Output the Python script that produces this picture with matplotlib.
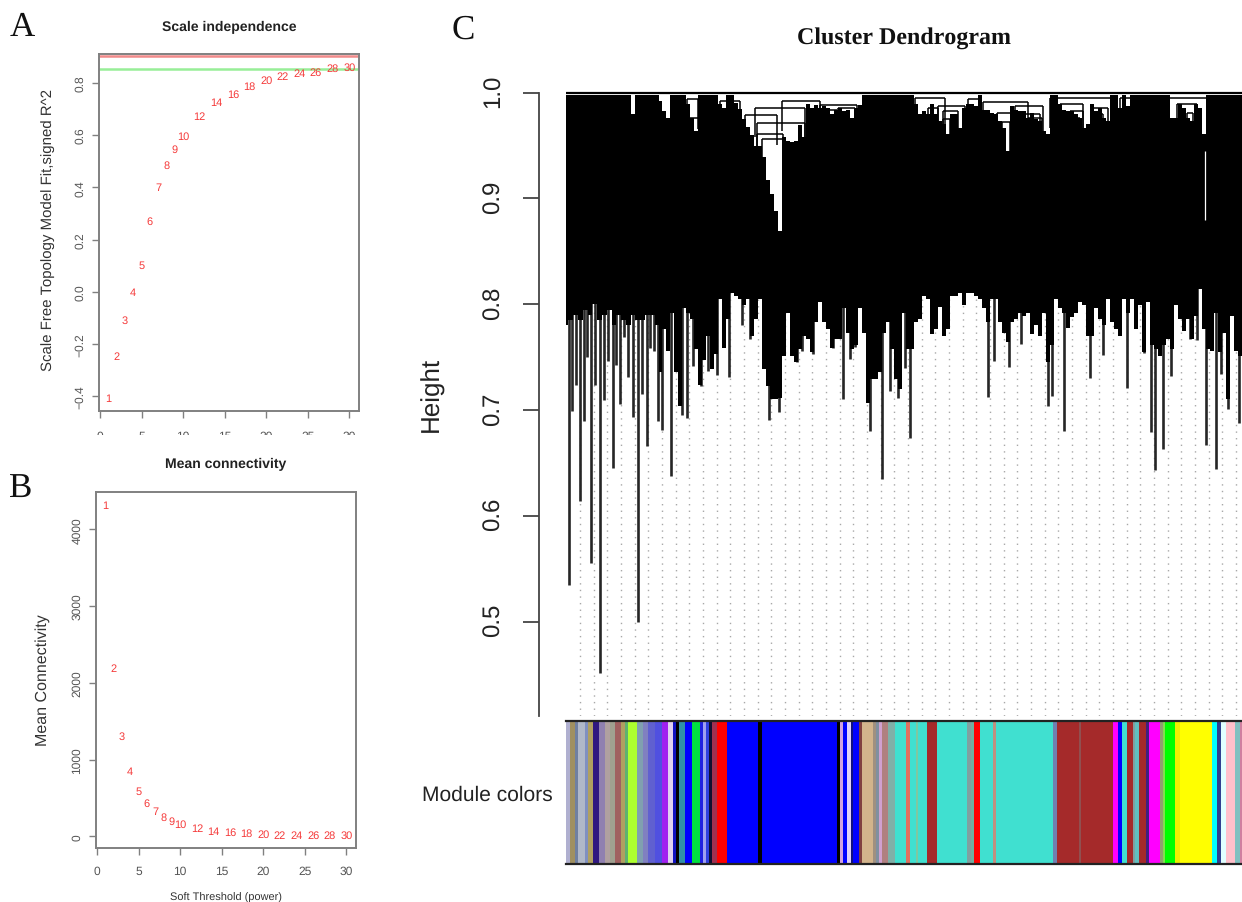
import numpy as np
import matplotlib
matplotlib.use("Agg")
import matplotlib.pyplot as plt
from matplotlib.patches import Rectangle
from matplotlib.transforms import ScaledTranslation

plt.rcParams["text.hinting"] = "no_hinting"
plt.rcParams["text.hinting_factor"] = 1

W, H = 1242, 903
SANS = "Liberation Sans"
SERIF = "Liberation Serif"

# ---------- Panels A and B ----------
powers = [1, 2, 3, 4, 5, 6, 7, 8, 9, 10, 12, 14, 16, 18, 20, 22, 24, 26, 28, 30]
sft_r2 = [-0.409, -0.248, -0.108, -0.002, 0.101, 0.271, 0.400, 0.487, 0.545, 0.598,
          0.674, 0.725, 0.759, 0.790, 0.813, 0.828, 0.839, 0.841, 0.857, 0.860]
mean_k = [4320, 2189, 1307, 855, 594, 434, 330, 251, 199, 160,
          108, 73, 56, 43, 30, 21, 17, 17, 13, 13]
r2_cut_red = 0.903
r2_cut_green = 0.853
x_ticks = [0, 5, 10, 15, 20, 25, 30]
a_yticks = [-0.4, -0.2, 0.0, 0.2, 0.4, 0.6, 0.8]
b_yticks = [0, 1000, 2000, 3000, 4000]

# ---------- Panel C: dendrogram ----------
leaf_low = [
    .780, .785, .790, .785, .795, .790, .800, .785, .790, .795,
    .780, .790, .785, .780, .790, .785, .785, .790, .790, .780,
    .736, .777, .756, .792, .736, .704, .796, .792, .786, .758,
    .724, .747, .770, .739, .753, .805, .759, .786, .811, .808,
    .805, .799, .805, .770, .786, .805, .739, .723, .710, .710,
    .711, .751, .792, .751, .745, .758, .770, .767, .755, .783,
    .802, .783, .777, .759, .767, .767, .796, .773, .758, .761,
    .796, .773, .707, .729, .729, .736, .773, .783, .758, .729,
    .720, .792, .758, .758, .783, .786, .808, .805, .772, .777,
    .797, .770, .777, .808, .808, .811,
    .799, .811, .811, .808, .805, .796, .783, .805, .805, .783,
    .773, .764, .783, .786, .792, .789, .792, .772, .780, .770,
    .792, .745, .761, .805, .796, .792, .778, .788, .792, .802,
    .799, .770, .770, .796, .786, .780, .805, .783, .777, .770,
    .805, .792, .805, .777, .799, .755, .802, .761, .758, .751,
    .761, .767, .758, .799, .786, .775, .786, .767, .789, .814,
    .777, .758, .756, .792, .755, .773, .710, .789, .756, .751, .751]
leaf_x = np.concatenate([np.linspace(566, 657, 20), np.arange(660, 964, 4),
                         np.arange(964, 1244, 4), [1243]])

notch_x = [632, 660, 664, 668, 688, 692, 696, 720, 724,
           736, 740, 744, 748, 752, 756, 760, 764, 768, 772, 776, 780, 784, 788, 792, 796,
           800, 804, 808, 812, 816, 820, 824, 828, 832, 836, 840, 844, 848, 852, 856, 860,
           916, 920, 924, 928, 932, 936, 940, 944, 948, 952, 956, 960, 964, 968, 972, 976,
           984, 988, 992, 996, 1000, 1004, 1008, 1012, 1016, 1020, 1024, 1028, 1032, 1036,
           1040, 1044, 1048, 1060, 1064, 1068, 1072, 1076, 1080, 1084, 1088, 1092, 1096,
           1100, 1104, 1108, 1120, 1128, 1172, 1176, 1180, 1184, 1188, 1192, 1196, 1200,
           1204]
notch_top = [.980, .992, .983, .976, .989, .976, .964, .989, .986,
             .990, .985, .975, .968, .960, .950, .950, .939, .917, .904, .888, .869, .958, .954,
             .953, .954, .969, .958, .989, .986, .988, .986, .987, .986, .980, .984, .986, .983,
             .984, .976, .986, .988,
             .989, .980, .983, .980, .989, .980, .973, .970, .961, .980, .980, .967, .986, .989,
             .989, .987, .984, .984, .981, .980, .973, .967, .945, .987, .984, .983, .983, .976,
             .981, .975, .973, .964, .961, .989, .984, .983, .983, .980, .976, .967, .970, .989,
             .983, .986, .976, .973, .986, .987, .976, .976, .989, .986, .976, .973, .989, .986,
             .961]

spike_x = [569, 580, 591, 600, 612.7, 638.3, 646.7, 662.3, 670.7, 681.7, 686.7, 693.3,
           700.7, 708, 716.7, 729, 741.7, 750, 769, 779, 796.7, 801.7, 813.3, 833.3, 842.7,
           850, 855, 870, 875, 882.3, 890, 898.3, 905, 910, 988.3, 994.3, 1009.3, 1020.7,
           1047.7, 1051.7, 1064.3, 1090, 1102.7, 1127.3, 1144, 1151, 1155.3, 1162.7, 1170.7,
           1190, 1196.7, 1206, 1215.7, 1220.7, 1228.3, 1239,
           572, 576, 584, 587, 595, 604, 608, 616, 620, 624, 628, 633, 642, 650, 654, 658]
spike_low = [.535, .614, .555, .451, .645, .500, .666, .681, .638, .695, .692, .742,
             .723, .737, .733, .731, .780, .767, .691, .698, .745, .756, .753, .759, .710,
             .748, .760, .680, .730, .635, .718, .711, .740, .674, .712, .746, .741, .762,
             .704, .713, .680, .730, .752, .721, .754, .679, .643, .663, .732,
             .767, .766, .667, .644, .734, .701, .688,
             .699, .724, .690, .750, .724, .709, .746, .743, .706, .769, .731, .693, .715,
             .759, .756, .690]

bracket_x0 = [745, 755, 757, 757, 762, 782, 820, 823, 838, 687, 688, 720,
              915, 928, 938, 943, 943, 968, 983, 997, 1002, 1015, 1023, 1028,
              1050, 1060, 1070, 1073, 1093, 1097, 1120, 1167, 1177, 1187]
bracket_x1 = [777, 805, 805, 783, 783, 820, 857, 837, 855, 698, 700, 740,
              945, 938, 965, 958, 950, 980, 1028, 1015, 1010, 1043, 1040, 1042,
              1113, 1083, 1083, 1080, 1108, 1103, 1133, 1207, 1197, 1193]
bracket_h = [.979, .986, .971, .961, .956, .992, .988, .984, .986, .994, .976, .992,
             .995, .986, .987, .983, .975, .994, .991, .981, .972, .987, .980, .976,
             .995, .989, .983, .976, .986, .980, .995, .995, .989, .981]
bracket_drop = 0.028
sliver_x = [1205]
sliver_top = [0.945]
sliver_low = [0.880]

# ---------- Panel C: module colours ----------
module_colors = [
    '#b0b0d0', '#a09060', '#7080a0', '#b0b8c8', '#8090c0', '#b0a060', '#301880', '#9080b0',
    '#b0a0a0', '#a0a090', '#a06060', '#b0a060', '#60b070', '#adff2f', '#80a0b0', '#8080c0',
    '#6060d0', '#5050e0', '#a020f0', '#e0d0f0', '#1010c0', '#000000', '#3090a8', '#0000ff',
    '#00e040', '#2020e0', '#a0a0f0', '#3040e0', '#101030', '#a03050', '#ff0000', '#0000ff',
    '#000000', '#0000ff', '#000000', '#d0a0e0', '#0000ff', '#e0d0f8', '#101080', '#0000ff',
    '#804040', '#d2b48c', '#a09080', '#8090a0', '#d0a0d0', '#b08080', '#80b0a8', '#40e0d0',
    '#40e0d0', '#e07060', '#40e0d0', '#80c8a0', '#40e0d0', '#a52a2a', '#40e0d0', '#80a0a0',
    '#70b0a0', '#ff0000', '#40e0d0', '#c09080', '#40e0d0', '#7080b0', '#a52a2a', '#905050',
    '#a52a2a', '#ff00ff', '#0000ff', '#40e0d0', '#a52a2a', '#80a0a0', '#60c0c0', '#a52a2a',
    '#402080', '#ff00ff', '#90a070', '#80e050', '#00ff00', '#f0f000', '#ffff00', '#00ffff',
    '#304090', '#e0ffff', '#ffc0cb', '#80c0c0', '#d080a0']
module_sizes = [
    12, 15, 10, 20, 10, 13, 20, 17, 15, 15, 18, 12, 10, 27, 18, 15, 20, 20, 20, 13, 9, 10, 18, 20,
    25, 10, 8, 9, 10, 15, 28, 95, 11, 226, 8, 8, 14, 10, 8, 18, 7, 33, 10, 10, 8, 19, 20, 15,
    18, 12, 18, 6, 26, 30, 90, 12, 10, 18, 40, 8, 170, 12, 68, 6, 96, 15, 11, 16, 16, 7, 11, 22,
    10, 32, 10, 5, 30, 15, 96, 16, 10, 16, 26, 16, 6]

fig = plt.figure(figsize=(W / 100, H / 100), dpi=100, facecolor="white")


def px_axes(left, top, right, bottom):
    return fig.add_axes([left / W, 1 - bottom / H, (right - left) / W, (bottom - top) / H])


def px_text(x, y, s, **kw):
    return fig.text(x / W, 1 - y / H, s, ha="center", va="center", **kw)


def scatter_panel(ax, ys, xlim, ylim, yticks, yfmt, xpad):
    ax.set_xlim(*xlim)
    ax.set_ylim(*ylim)
    for s in ax.spines.values():
        s.set_color("#808080")
        s.set_linewidth(1.4)
    ax.set_xticks(x_ticks)
    ax.set_yticks(yticks)
    ax.set_yticklabels([yfmt(v) for v in yticks], rotation=90, va="center",
                       family=SANS, fontsize=8.6, color="#555555")
    ax.set_xticklabels([str(v) for v in x_ticks], family=SANS, fontsize=8.4, color="#555555")
    ax.tick_params(axis="both", length=5, width=1, color="#808080")
    ax.tick_params(axis="x", pad=xpad)
    ax.tick_params(axis="y", pad=4.5)
    for p, v in zip(powers, ys):
        ax.text(p, v, str(p), color="#f53a3a", fontsize=8, family=SANS,
                ha="center", va="center", zorder=4)


# Panel A
axA = px_axes(99, 55, 359, 412)
axA.axhline(r2_cut_red, color="#f08a8a", lw=1.8, zorder=2)
axA.axhline(r2_cut_green, color="#98ee98", lw=1.8, zorder=2)
scatter_panel(axA, sft_r2, (-0.12, 31.17), (-0.457, 0.911), a_yticks,
              lambda v: f"{v:.1f}".replace("-", "\u2212"), 8.5)

# Panel B
axB = px_axes(96, 492.7, 356.3, 849.3)
scatter_panel(axB, mean_k, (-0.12, 31.18), (-156, 4490), b_yticks, str, 7)

# Dendrogram
axC = px_axes(566, 90, 1242, 716.7)
axC.set_xlim(566, 1242)
axC.set_ylim(0.411, 1.0035)
axC.patch.set_alpha(0)
guide_x = np.arange(580, 1242, 13.67)
axC.vlines(guide_x, 0.411, 0.9, colors="#a8a8a8", lw=1.0, linestyles=(0, (1, 3.75)), zorder=1)
low = np.array(leaf_low)
top = np.full(low.shape, 0.998)
for nx, nh in zip(notch_x, notch_top):
    top[np.abs(leaf_x - nx).argmin()] = nh
axC.vlines(spike_x, spike_low, 0.82, colors="#262626", lw=1.9, zorder=2)
axC.fill_between(leaf_x, low, top, step="mid", color="black", lw=0, zorder=3)
axC.vlines(sliver_x, sliver_low, sliver_top, colors="white", lw=0.9, zorder=4)
b_h = np.array(bracket_h)
axC.hlines(b_h, bracket_x0, bracket_x1, colors="black", lw=1.1, zorder=4)
axC.vlines(bracket_x0, b_h - bracket_drop, b_h, colors="black", lw=1.1, zorder=4)
axC.vlines(bracket_x1, b_h - bracket_drop, b_h, colors="black", lw=1.1, zorder=4)
axC.hlines(1.0, 566, 1242, colors="black", lw=1.6, zorder=4)
for name in ("top", "right", "bottom"):
    axC.spines[name].set_visible(False)
axC.spines["left"].set_position(("outward", (566 - 539.3) * 0.72))
axC.spines["left"].set_bounds(0.411, 1.0)
axC.spines["left"].set_color("#444444")
axC.spines["left"].set_linewidth(1.3)
axC.set_xticks([])
c_ticks = [0.5, 0.6, 0.7, 0.8, 0.9, 1.0]
axC.set_yticks(c_ticks)
axC.set_yticklabels([f"{v:.1f}" for v in c_ticks], rotation=90, va="center",
                    family=SANS, fontsize=17.4, color="#222222")
axC.tick_params(axis="y", length=11.5, width=1.3, color="#444444", pad=13)
nudge = ScaledTranslation(0, 2 / 72 * 0.72, fig.dpi_scale_trans)
for lab in axC.get_yticklabels():
    lab.set_transform(lab.get_transform() + nudge)

# Module colour strip
axM = px_axes(566, 722, 1242, 865)
sizes = np.array(module_sizes) / 3
axM.barh(0, sizes, left=np.cumsum(sizes) - sizes + 566, height=1, color=module_colors, lw=0)
axM.set_xlim(566, 1242)
axM.set_ylim(-0.5, 0.5)
axM.set_xticks([])
axM.set_yticks([])
for name in ("left", "right"):
    axM.spines[name].set_visible(False)
for name in ("top", "bottom"):
    axM.spines[name].set_color("#222222")
    axM.spines[name].set_linewidth(1.6)

# White band that cuts panel A's tick labels
fig.add_artist(Rectangle((85 / W, 1 - 457 / H), 290 / W, 21 / H, transform=fig.transFigure,
                         facecolor="white", edgecolor="none", zorder=5))

# Text
px_text(229, 27, "Scale independence", family=SANS, fontsize=10, weight="bold", color="#222222")
px_text(226, 464, "Mean connectivity", family=SANS, fontsize=10, weight="bold", color="#222222", zorder=6)
px_text(226, 897.5, "Soft Threshold (power)", family=SANS, fontsize=7.95, color="#333333")
px_text(48, 230, "Scale Free Topology Model Fit,signed R^2", family=SANS, fontsize=11,
        rotation=90, color="#333333")
px_text(43, 680, "Mean Connectivity", family=SANS, fontsize=11.6, rotation=90, color="#333333")
px_text(22, 28, "A", family=SERIF, fontsize=25, color="#111111")
px_text(21, 489, "B", family=SERIF, fontsize=25, color="#111111")
px_text(463, 30, "C", family=SERIF, fontsize=25, color="#111111")
px_text(904, 38, "Cluster Dendrogram", family=SERIF, fontsize=17.4, weight="bold", color="#111111")
px_text(432, 394, "Height", family=SANS, fontsize=18.4, rotation=90, color="#222222")
px_text(487.5, 795, "Module colors", family=SANS, fontsize=15, color="#222222")

fig.savefig("out.png", dpi=100)
